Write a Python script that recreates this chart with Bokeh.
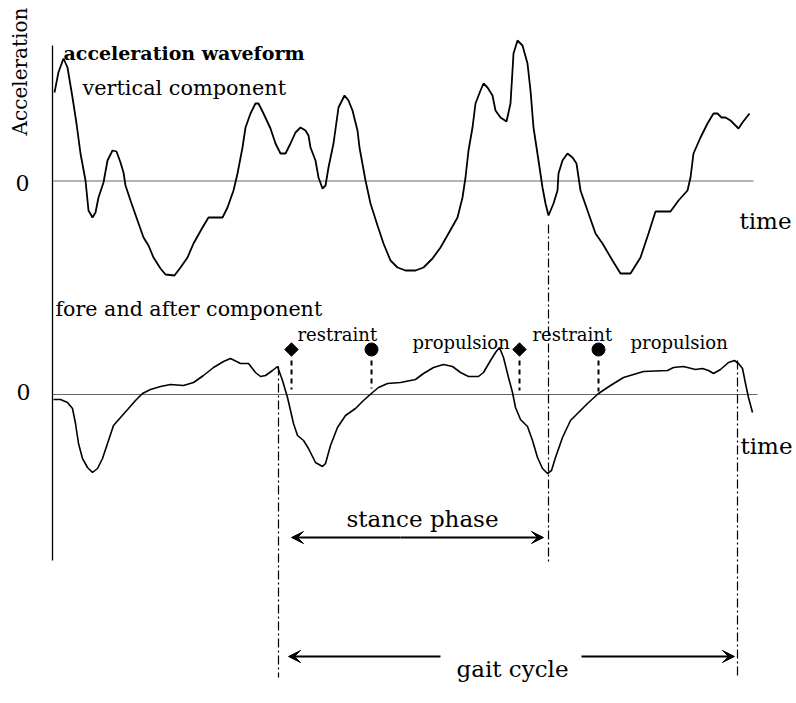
from bokeh.plotting import figure
from bokeh.models import Range1d, Arrow, VeeHead
from bokeh.core.properties import value
from bokeh.embed import file_html
from bokeh.resources import INLINE
import math

# ---- data (time in arbitrary units, acceleration in arbitrary units, 0 = baseline) ----
vert_time = [54, 58, 63, 67, 72, 76, 80, 85, 88, 92, 95, 98, 103, 107, 112, 116, 120, 123, 125, 130,
             137, 143, 148, 153, 160, 165, 174, 180, 187, 193, 202, 208, 222, 227, 233, 237, 242, 245,
             250, 255, 258, 263, 270, 275, 280, 285, 290, 295, 300, 305, 308, 310, 315, 318, 322, 325,
             328, 333, 338, 344, 348, 352, 357, 359, 365, 370, 377, 383, 390, 397, 405, 415, 423, 432,
             440, 448, 457, 462, 465, 468, 472, 475, 480, 483, 487, 492, 495, 500, 506, 510, 512, 513,
             517, 522, 527, 530, 533, 538, 542, 545, 548, 553, 557, 558, 562, 567, 572, 576, 580, 587,
             595, 602, 612, 620, 630, 640, 648, 655, 670, 678, 687, 690, 693, 700, 707, 713, 717, 721,
             725, 730, 735, 738, 742, 749]
vert_acc = [88.5, 108.8, 122.5, 113.5, 83.5, 57.5, 27.5, 0.5, -29.5, -36.5, -31.5, -16.5, -1.5, 20.5,
            30.5, 29.5, 18.5, 8.5, -4.5, -19.5, -39.5, -56.5, -64.5, -76.5, -87.5, -93.5, -94.5, -86.5,
            -76.5, -62.5, -46.5, -36.5, -36.5, -26.5, -9.5, 7.5, 33.5, 53.5, 67.5, 77.5, 77.5, 67.5,
            52.5, 37.5, 27.5, 27.5, 37.5, 48.5, 53.5, 50.5, 45.5, 33.5, 20.5, 3.5, -7.5, -4.5, 13.5,
            37.5, 73.5, 85.5, 80.5, 70.5, 50.5, 33.5, 0.5, -22.5, -44.5, -62.5, -79.5, -86.5, -89.5,
            -89.5, -86.5, -77.5, -66.5, -52.5, -36.5, -16.5, 3.5, 30.5, 53.5, 77.5, 90.5, 97.5, 93.5,
            85.5, 70.5, 63.5, 59.5, 77.5, 110.5, 127.5, 140.5, 135.5, 117.5, 90.5, 53.5, 20.5, -6.5,
            -22.5, -34.5, -22.5, -9.5, 7.5, 20.5, 27.5, 23.5, 17.5, -9.5, -29.5, -52.5, -62.5, -79.5,
            -92.5, -92.5, -76.5, -52.5, -30.5, -30.5, -19.5, -9.5, 3.5, 27.5, 43.5, 57.5, 67.5, 67.5,
            63.5, 63.5, 60.5, 55.5, 52.5, 58.5, 67.5]

fore_time = [53, 60, 67, 72, 75, 78, 82, 87, 92, 97, 102, 107, 113, 120, 128, 135, 142, 150, 160, 170,
             183, 193, 203, 213, 223, 230, 240, 248, 255, 260, 265, 272, 277, 282, 287, 290, 293, 297,
             303, 308, 315, 322, 325, 330, 337, 345, 355, 363, 372, 378, 387, 400, 415, 423, 433, 443,
             452, 460, 468, 478, 483, 490, 495, 499, 503, 508, 512, 515, 520, 527, 532, 537, 542, 547,
             551, 555, 562, 570, 578, 587, 598, 610, 623, 643, 667, 673, 683, 695, 702, 708, 713, 720,
             728, 734, 738, 742, 745, 748, 752]
fore_acc = [-5, -5, -8, -14, -29, -49, -64, -73, -78, -74, -64, -49, -31, -23, -14, -6, 1, 5, 8, 10,
            9, 12, 19, 27, 33, 36, 31, 31, 22, 18, 19, 24, 28, 14, -3, -16, -29, -41, -46, -54, -68,
            -72, -69, -51, -33, -21, -14, -6, 2, 7, 11, 12, 15, 21, 27, 30, 28, 22, 18, 18, 22, 34,
            42, 47, 37, 17, 2, -13, -25, -32, -46, -63, -74, -79, -76, -63, -43, -26, -18, -9, 1, 9,
            17, 23, 24, 27, 28, 25, 26, 24, 21, 25, 32, 34, 31, 26, 11, -3, -18]

# gait events (time)
heel_contact = [278, 737]        # start / end of gait cycle
toe_off = [548]                  # end of stance phase
restraint_start = [291, 519]     # diamonds
propulsion_start = [371, 598]    # circles

labels_restraint = ["restraint", "restraint"]
labels_propulsion = ["propulsion", "propulsion"]

SERIF = "DejaVu Serif"
W, H = 796, 703

p = figure(width=W, height=H, x_range=Range1d(0, W), y_range=Range1d(180.5 - H, 180.5),
           min_border=0, toolbar_location=None, output_backend="svg",
           x_axis_location=None, y_axis_location=None)
p.extra_y_ranges = {"fore": Range1d(394 - H, 394), "px": Range1d(H, 0)}
p.grid.visible = False
p.outline_line_color = None
p.background_fill_color = "white"
p.border_fill_color = "white"

# baselines
p.line([52, 753], [0, 0], line_color="#666666", line_width=1)
p.line([52, 757], [0, 0], line_color="#666666", line_width=1, y_range_name="fore")
# left axis
p.line([52, 52], [45, 560], line_color="black", line_width=1.3, y_range_name="px")

# waveforms
p.line(vert_time, vert_acc, line_color="black", line_width=1.8)
p.line(fore_time, fore_acc, line_color="black", line_width=1.6, y_range_name="fore")

# dash-dot event lines (page pixel range)
DD = "9 3 2 3"
p.segment(x0=[heel_contact[0]], y0=[366], x1=[heel_contact[0]], y1=[677],
          line_color="black", line_width=1.2, line_dash=DD, y_range_name="px")
p.segment(x0=[toe_off[0]], y0=[224], x1=[toe_off[0]], y1=[562],
          line_color="black", line_width=1.2, line_dash=DD, y_range_name="px")
p.segment(x0=[heel_contact[1]], y0=[360], x1=[heel_contact[1]], y1=[677],
          line_color="black", line_width=1.2, line_dash=DD, y_range_name="px")

# marker stems (dashed)
stem_x = restraint_start + propulsion_start
p.segment(x0=stem_x, y0=[34] * 4, x1=stem_x, y1=[5, 4, 6, 3],
          line_color="black", line_width=2, line_dash="5 4", y_range_name="fore")
p.scatter(restraint_start, [45, 45], marker="square", size=9.5, angle=math.pi / 4,
          color="black", y_range_name="fore")
p.scatter(propulsion_start, [45, 45], marker="circle", size=13, color="black",
          y_range_name="fore")

# arrows
head = dict(size=12, fill_color="black", line_color="black")
p.add_layout(Arrow(end=VeeHead(**head), x_start=400, y_start=537, x_end=291, y_end=537,
                   line_width=2, y_range_name="px"))
p.add_layout(Arrow(end=VeeHead(**head), x_start=400, y_start=537, x_end=543, y_end=537,
                   line_width=2, y_range_name="px"))
p.add_layout(Arrow(end=VeeHead(**head), x_start=440, y_start=656, x_end=288, y_end=656,
                   line_width=2, y_range_name="px"))
p.add_layout(Arrow(end=VeeHead(**head), x_start=581, y_start=656, x_end=734, y_end=656,
                   line_width=2, y_range_name="px"))


def txt(x, y, s, size, align="left", baseline="alphabetic", bold=False, angle=0.0):
    p.text(x=[x], y=[y], text=[s], text_font=value(SERIF), text_font_size=size,
           text_align=align, text_baseline=baseline, angle=angle,
           text_font_style="bold" if bold else "normal", text_color="black",
           y_range_name="px")


txt(19.5, 71, "Acceleration", "20px", align="center", baseline="middle", angle=math.pi / 2)
txt(63, 52, "acceleration waveform", "19px", bold=True)
txt(82, 87, "vertical component", "20.8px")
txt(22, 182, "0", "22px", align="center", baseline="middle")
txt(739, 220, "time", "23px")
txt(55, 308, "fore and after component", "20.6px")
txt(23, 391, "0", "22px", align="center", baseline="middle")
txt(740, 445, "time", "23px")
txt(297, 334, labels_restraint[0], "18px")
txt(532, 334, labels_restraint[1], "18px")
txt(412, 342, labels_propulsion[0], "18px")
txt(630, 342, labels_propulsion[1], "18px")
txt(346, 518, "stance phase", "23px")
txt(456, 668, "gait cycle", "23px")

open("out.html", "w").write(file_html(p, INLINE))
